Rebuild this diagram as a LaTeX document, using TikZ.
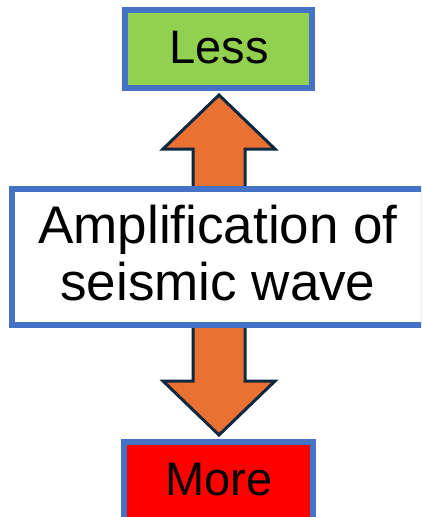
\documentclass[tikz,border=0pt]{standalone}
\usepackage{fontspec}
\setmainfont{Liberation Sans}
\definecolor{bordblue}{HTML}{4472C4}
\definecolor{lessgreen}{HTML}{92D050}
\definecolor{morered}{HTML}{FF0000}
\definecolor{arrorange}{HTML}{E97132}
\definecolor{arrdark}{HTML}{0E2841}
\begin{document}
\begin{tikzpicture}[x=1pt,y=-1pt,
  box/.style={draw=bordblue, line width=6pt, rectangle, inner sep=0pt},
  bigarrow/.style={draw=arrdark, fill=arrorange, line width=3pt, line join=miter},
  lbl/.style={anchor=base, inner sep=0pt, font=\fontsize{47}{50}\selectfont},
  midlbl/.style={anchor=base, inner sep=0pt, font=\fontsize{53}{57}\selectfont}]
\useasboundingbox (0,0) rectangle (421,517);
\clip (0,0) rectangle (421,517);
\fill[white] (0,0) rectangle (421,517);
% arrows
\draw[bigarrow] (193,205) -- (193,149) -- (163,149) -- (219,95) -- (275,149) -- (245,149) -- (245,205) -- cycle;
\draw[bigarrow] (193,305) -- (193,381) -- (163,381) -- (219,435) -- (275,381) -- (245,381) -- (245,305) -- cycle;
% boxes
\node[box, fill=white, minimum width=412pt, minimum height=135.5pt] (mid) at (218,256.75) {};
\node[box, fill=lessgreen, minimum width=187.5pt, minimum height=77.5pt] (less) at (218.25,48.75) {};
\node[box, fill=morered, minimum width=189pt, minimum height=77.5pt] (more) at (218.5,480.75) {};
% labels
\node[lbl] (lesstext) at (219,63) {Less};
\node[lbl] (moretext) at (219,495) {More};
\node[midlbl] (midtext1) at (218,243) {Amplification of};
\node[midlbl] (midtext2) at (218,300) {seismic wave};
\end{tikzpicture}
\end{document}
